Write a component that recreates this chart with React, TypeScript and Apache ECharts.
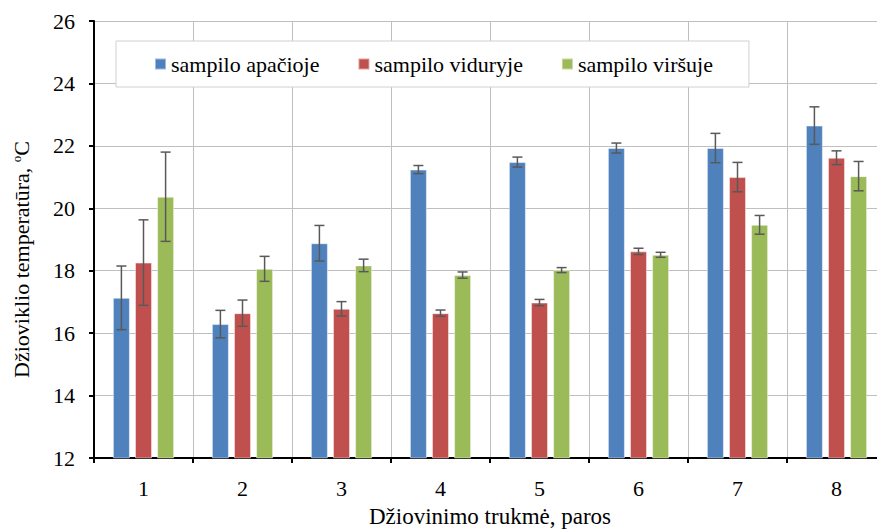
import React, { useEffect, useRef } from 'react';
import * as echarts from 'echarts';

const categories = ['1', '2', '3', '4', '5', '6', '7', '8'];
const seriesNames = ['sampilo apačioje', 'sampilo viduryje', 'sampilo viršuje'];
const colors = ['#4F81BD', '#C0504D', '#9BBB59'];

const bottomValues = [17.13, 16.29, 18.88, 21.24, 21.48, 21.93, 21.93, 22.65];
const bottomErrors = [1.02, 0.44, 0.57, 0.13, 0.16, 0.16, 0.47, 0.6];
const middleValues = [18.26, 16.64, 16.78, 16.64, 16.98, 18.62, 21.0, 21.62];
const middleErrors = [1.37, 0.42, 0.23, 0.1, 0.1, 0.1, 0.47, 0.22];
const topValues = [20.37, 18.06, 18.17, 17.86, 18.02, 18.51, 19.47, 21.03];
const topErrors = [1.43, 0.4, 0.2, 0.1, 0.08, 0.08, 0.3, 0.47];

const yTicks = [12, 14, 16, 18, 20, 22, 24, 26];

const FONT = 'Liberation Serif';
const BAR_W = 17;
const BAR_GAP = 0.3;

export default function App() {
  const ref = useRef<HTMLDivElement>(null);
  useEffect(() => {
    document.body.style.margin = '0';
    if (!ref.current) return;
    const chart = echarts.init(ref.current, null, { renderer: 'svg' });
    const values = [bottomValues, middleValues, topValues];
    const errors = [bottomErrors, middleErrors, topErrors];

    const barSeries = values.map((vals, s) => ({
      name: seriesNames[s],
      type: 'bar',
      data: vals,
      barWidth: BAR_W,
      barGap: BAR_GAP * 100 + '%',
      itemStyle: { color: colors[s], borderColor: 'rgba(255,255,255,0.45)', borderWidth: 1 },
      z: 2,
    }));

    const errSeries = values.map((vals, s) => ({
      type: 'custom',
      name: 'err' + s,
      data: vals.map((v, i) => [i, v, errors[s][i]]),
      encode: { x: 0, y: 1 },
      z: 5,
      silent: true,
      renderItem: (params: any, api: any) => {
        const i = api.value(0);
        const v = api.value(1);
        const e = api.value(2);
        const offset = (s - 1) * BAR_W * (1 + BAR_GAP);
        const hi = api.coord([i, v + e]);
        const lo = api.coord([i, v - e]);
        const x = hi[0] + offset;
        const cap = 5;
        const style = { stroke: '#595959', lineWidth: 1.5 };
        return {
          type: 'group',
          children: [
            { type: 'line', shape: { x1: x, y1: hi[1], x2: x, y2: lo[1] }, style },
            { type: 'line', shape: { x1: x - cap, y1: hi[1], x2: x + cap, y2: hi[1] }, style },
            { type: 'line', shape: { x1: x - cap, y1: lo[1], x2: x + cap, y2: lo[1] }, style },
          ],
        };
      },
    }));

    chart.setOption({
      animation: false,
      textStyle: { fontFamily: FONT, color: '#000' },
      grid: { left: 94, right: -9, top: 21, bottom: 73, containLabel: false, outerBoundsMode: 'none' },
      legend: {
        data: seriesNames.map((n) => ({ name: n, icon: 'rect' })),
        left: 116,
        top: 41,
        padding: [12, 36, 12, 38],
        itemWidth: 11,
        itemHeight: 11,
        itemGap: 38,
        backgroundColor: '#fff',
        borderColor: '#d0d0d0',
        borderWidth: 1,
        textStyle: { fontFamily: FONT, fontSize: 22, color: '#000' },
      },
      xAxis: {
        type: 'category',
        data: categories,
        boundaryGap: true,
        name: 'Džiovinimo trukmė, paros',
        nameLocation: 'middle',
        nameGap: 47,
        nameTextStyle: { fontFamily: FONT, fontSize: 23, color: '#000' },
        axisLine: { lineStyle: { color: '#000', width: 2 } },
        axisTick: { show: true, length: 5, lineStyle: { color: '#000', width: 2 } },
        axisLabel: { fontFamily: FONT, fontSize: 22, color: '#000', margin: 19 },
        splitLine: { show: true, lineStyle: { color: '#bfbfbf', width: 1 } },
      },
      yAxis: {
        type: 'value',
        min: yTicks[0],
        max: yTicks[yTicks.length - 1],
        interval: 2,
        name: 'Džioviklio temperatūra, {sup|o}C',
        nameLocation: 'middle',
        nameGap: 62,
        nameTextStyle: {
          fontFamily: FONT,
          fontSize: 22,
          color: '#000',
          padding: [0, 40, 0, 0],
          rich: {
            sup: { fontFamily: FONT, fontSize: 13, color: '#000', verticalAlign: 'top', padding: [0, 0, 9, 0] },
          },
        },
        axisLine: { show: true, lineStyle: { color: '#000', width: 2 } },
        axisTick: { show: true, length: 5, lineStyle: { color: '#000', width: 2 } },
        axisLabel: { fontFamily: FONT, fontSize: 22, color: '#000', margin: 19 },
        splitLine: { show: true, lineStyle: { color: '#bfbfbf', width: 1 } },
      },
      series: [...barSeries, ...errSeries],
    });
    return () => chart.dispose();
  }, []);
  return <div ref={ref} style={{ width: 877, height: 531 }} />;
}
